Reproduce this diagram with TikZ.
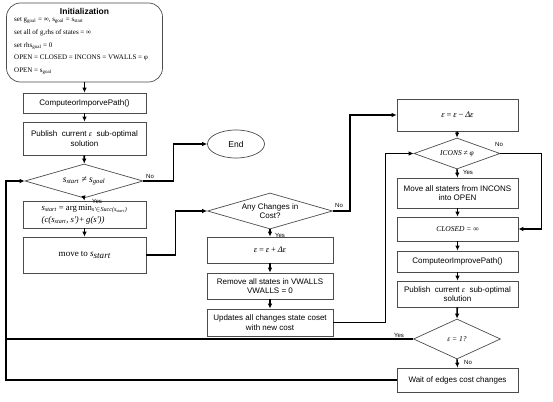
\documentclass[tikz,border=0pt]{standalone}
\usepackage{fontspec}
\setmainfont{Liberation Sans}
\newfontfamily\tms{Liberation Serif}
\usetikzlibrary{shapes.geometric,arrows.meta}
\begin{document}
\begin{tikzpicture}[x=1pt,y=-1pt,
 box/.style={draw=black!70, line width=0.7pt, fill=white, inner sep=1pt, align=center,
   font=\fontsize{8}{9.5}\selectfont, minimum width=123pt},
 dia/.style={draw=black!70, line width=0.7pt, diamond, inner sep=0pt},
 flow/.style={line width=1.6pt, -{Latex[length=5pt,width=4.5pt]}},
 link/.style={line width=1.6pt},
 lbl/.style={font=\fontsize{6}{7}\selectfont, inner sep=1pt},
 mth/.style={font=\tms\itshape\fontsize{8.5}{10}\selectfont}
]
\useasboundingbox (0,0) rectangle (553,401);
% left column
\node[box, rounded corners=14pt, minimum width=156pt, minimum height=79pt] (init) at (84.5,42.5) {};
\node[font=\bfseries\fontsize{8.5}{10}\selectfont] (initt) at (84.5,11) {Initialization};
\node[anchor=north west, align=left, inner sep=0pt, font=\tms\fontsize{7}{12.7}\selectfont] (initx) at (14,17.5)
 {set g\textsubscript{goal} = ∞, s\textsubscript{goal} = s\textsubscript{start}\\
  set all of g,rhs of states = ∞\\
  set rhs\textsubscript{goal} = 0\\
  OPEN = CLOSED = INCONS = VWALLS = φ\\
  OPEN = s\textsubscript{goal}};
\node[box, minimum height=20pt] (comp1) at (84.5,103) {ComputeorImporvePath()};
\node[box, minimum height=33pt] (pub1) at (84.5,138.5) {Publish\ \ current {\tms\itshape ε}\ \ sub-optimal\\solution};
\node[dia, minimum width=118pt, minimum height=34pt,
  label={[font=\tms\itshape\fontsize{9.5}{11}\selectfont]center:s\textsubscript{start} ≠ s\textsubscript{goal}}] (dia1) at (84,181) {};
\node[draw=black!70, line width=0.7pt, ellipse, minimum width=57pt, minimum height=28pt, inner sep=0pt,
  font=\fontsize{8.5}{10}\selectfont] (end) at (236,144) {End};
\node[box, minimum height=27pt, align=left, font=\tms\fontsize{8.7}{11.5}\selectfont] (argmin) at (84.5,214.5)
 {{\itshape s\textsubscript{start}} = arg\,min\textsubscript{\itshape s'$\in$Succ(s\textsubscript{start})}\\
  {\itshape (c(s\textsubscript{start}, s')+\,g(s'))}};
\node[box, minimum height=36pt, font=\tms\fontsize{9}{11}\selectfont] (move) at (84.5,255)
 {move to {\itshape s\raisebox{-0.35ex}{\fontsize{9}{10}\selectfont start}}};
% middle column
\node[dia, minimum width=125pt, minimum height=36pt,
  label={[align=center,font=\fontsize{8}{9.5}\selectfont]center:Any Changes in\\Cost?}] (dia2) at (270,211) {};
\node[box, minimum width=126pt, minimum height=26pt, mth] (epsplus) at (270,250) {ε\,=\,ε\,+\,Δε};
\node[box, minimum width=126pt, minimum height=26pt] (remove) at (270,286) {Remove all states in VWALLS\\VWALLS = 0};
\node[box, minimum width=126pt, minimum height=27pt] (updates) at (270,322.5) {Updates all changes state coset\\with new cost};
% right column
\node[box, minimum width=121pt, minimum height=32pt, mth] (epsminus) at (457.5,115) {ε\,=\,ε\,−\,Δε};
\node[dia, minimum width=86pt, minimum height=31pt,
  label={[font=\tms\itshape\fontsize{7.5}{9}\selectfont]center:ICONS ≠ φ}] (dia3) at (457,153.5) {};
\node[box, minimum width=121pt, minimum height=30pt] (moveall) at (457.5,193) {Move all staters from INCONS\\into OPEN};
\node[box, minimum width=121pt, minimum height=24pt, font=\tms\itshape\fontsize{7.5}{9}\selectfont] (closed) at (457.5,229) {CLOSED = ∞};
\node[box, minimum width=121pt, minimum height=21pt] (comp2) at (457.5,261.5) {ComputeorImprovePath()};
\node[box, minimum width=121pt, minimum height=26pt] (pub2) at (457.5,294) {Publish\ \ current {\tms\itshape ε}\ \ sub-optimal\\solution};
\node[dia, minimum width=87pt, minimum height=40pt,
  label={[font=\tms\itshape\fontsize{7.5}{9}\selectfont]center:ε = 1?}] (dia4) at (457,339) {};
\node[box, minimum width=121pt, minimum height=24pt] (wait) at (457.5,380) {Wait of edges cost changes};
\coordinate (lx) at (6,181);
% connectors
\draw[flow] (init) -- (comp1);
\draw[flow] (comp1) -- (pub1);
\draw[flow] (pub1) -- (dia1);
\draw[flow] (dia1.south) -- (argmin.north);
\draw[flow] (argmin) -- (move);
\draw[flow] (dia1.east) -- ++(30,0) |- (end.west);
\draw[flow] (move.east) -- ++(29,0) |- (dia2.west);
\draw[flow] (dia2.south) -- (epsplus.north);
\draw[flow] (epsplus) -- (remove);
\draw[flow] (remove) -- (updates);
\draw[flow] (dia2.east) -- ++(17,0) |- (epsminus.west);
\draw[flow] (updates.east) -- ++(52,0) |- (dia3.west);
\draw[flow] (epsminus) -- (dia3.north);
\draw[flow] (dia3.south) -- (moveall.north);
\draw[flow] (dia3.east) -- ++(41,0) |- (closed.east);
\draw[flow] (moveall) -- (closed);
\draw[flow] (closed) -- (comp2);
\draw[flow] (comp2) -- (pub2);
\draw[flow] (pub2) -- (dia4.north);
\draw[flow] (dia4.south) -- (wait.north);
\draw[flow] (wait.west) -| (lx) -- (dia1.west);
\draw[link] (dia4.west) -- (dia4.west -| lx);
% labels
\node[lbl] (n1) at (150,176) {No};
\node[lbl] (y1) at (97,201) {Yes};
\node[lbl] (n2) at (339,205) {No};
\node[lbl] (y2) at (280,235) {Yes};
\node[lbl] (n3) at (499,144) {No};
\node[lbl] (y3) at (468,172) {Yes};
\node[lbl] (y4) at (399,335) {Yes};
\node[lbl] (n4) at (468,362) {No};
\end{tikzpicture}
\end{document}
